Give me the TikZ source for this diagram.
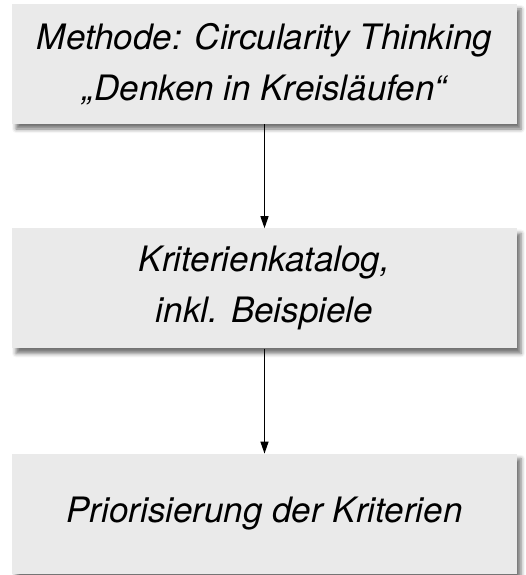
\documentclass[tikz,border=0pt]{standalone}
\usepackage{fontspec}
\setmainfont{TeX Gyre Heros}
\usetikzlibrary{positioning,shadows.blur,arrows.meta}
\definecolor{kastengrau}{RGB}{234,234,234}
\begin{document}
\begin{tikzpicture}[x=1pt, y=1pt,
  kasten/.style={fill=kastengrau, minimum width=505pt, minimum height=120pt, inner sep=0pt,
    align=center, font=\fontsize{35}{51}\selectfont\itshape,
    blur shadow={shadow xshift=4pt, shadow yshift=-5pt, shadow blur radius=4pt, shadow opacity=55}},
  pfeil/.style={-{Triangle[length=12pt, width=8pt]}, line width=1.3pt}]
  \useasboundingbox (0,0) rectangle (525,-575);
  \node[kasten] (methode) at (264.5,-64) {Methode: Circularity Thinking\\„Denken in Kreisläufen“};
  \node[kasten, below=104pt of methode] (katalog) {Kriterienkatalog,\\inkl. Beispiele};
  \node[kasten, below=105pt of katalog] (prio) {Priorisierung der Kriterien};
  \draw[pfeil] (methode) -- (katalog);
  \draw[pfeil] (katalog) -- (prio);
\end{tikzpicture}
\end{document}
